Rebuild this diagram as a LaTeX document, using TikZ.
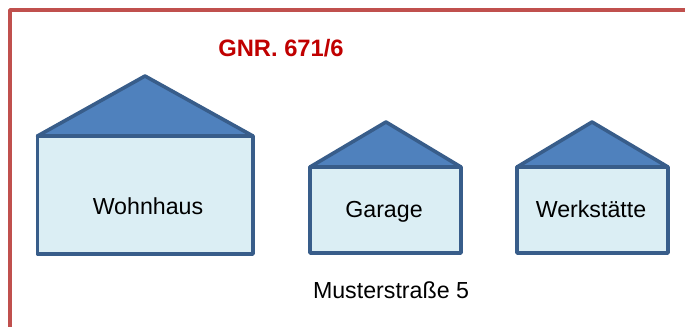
\documentclass[tikz,border=0pt]{standalone}
\usepackage{fontspec}
\setmainfont{Liberation Sans}
\definecolor{frameRed}{HTML}{C0504D}
\definecolor{roofBlue}{HTML}{4F81BD}
\definecolor{edgeBlue}{HTML}{385D8A}
\definecolor{wallBlue}{HTML}{DBEEF4}
\definecolor{titleRed}{HTML}{C00000}
\tikzset{
  wallshape/.style={draw=edgeBlue,fill=wallBlue,line width=2.7pt,line join=round},
  roofshape/.style={draw=edgeBlue,fill=roofBlue,line width=2.7pt,line join=round},
  frameline/.style={draw=frameRed,line width=2.7pt,line join=round},
  boxlabel/.style={anchor=base,font=\fontsize{17.4pt}{20pt}\selectfont,text=black,inner sep=0pt},
  titlelabel/.style={anchor=base,font=\fontsize{17.8pt}{20pt}\selectfont\bfseries,text=titleRed,inner sep=0pt}
}
\begin{document}
\begin{tikzpicture}[x=0.75pt,y=-0.75pt]
\useasboundingbox (0,0) rectangle (685,326);
\draw[frameline] (10,328) -- (10,10) -- (687,10);
\draw[wallshape] (37.5,136) rectangle (253,254);
\draw[roofshape] (37.5,136) -- (145,76) -- (253,136) -- cycle;
\draw[wallshape] (310,167) rectangle (461,253);
\draw[roofshape] (310,167) -- (386,122) -- (461,167) -- cycle;
\draw[wallshape] (517,167) rectangle (668,253);
\draw[roofshape] (517,167) -- (592,122) -- (668,167) -- cycle;
\node[boxlabel] (wohnhaus) at (148,214) {Wohnhaus};
\node[boxlabel] (garage) at (384,217) {Garage};
\node[boxlabel] (werk) at (591,217) {Werkstätte};
\node[boxlabel] (street) at (391,298) {Musterstraße 5};
\node[titlelabel] (title) at (281,56.5) {GNR. 671/6};
\end{tikzpicture}
\end{document}
